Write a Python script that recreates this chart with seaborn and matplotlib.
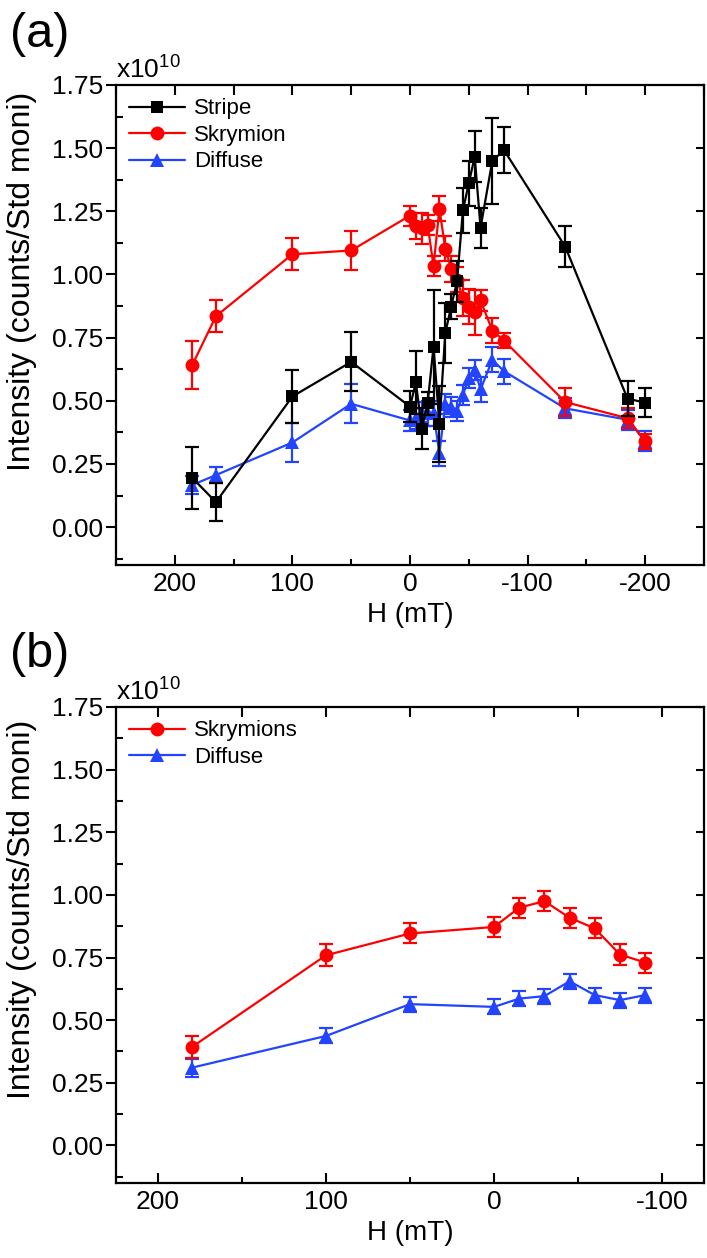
import matplotlib
matplotlib.use("Agg")
import matplotlib.pyplot as plt
import seaborn as sns
from matplotlib.ticker import MultipleLocator, FormatStrFormatter

# Panel (a): intensity (x1e10) vs field H (mT)
field_a = [185, 165, 100, 50, 0, -5, -10, -15, -20, -25, -30, -35, -40,
           -45, -50, -55, -60, -70, -80, -132, -185, -200]
stripe = [0.194, 0.099, 0.517, 0.654, 0.477, 0.573, 0.390, 0.490, 0.714, 0.407,
          0.768, 0.873, 0.973, 1.254, 1.361, 1.466, 1.185, 1.450, 1.492, 1.110,
          0.508, 0.493]
stripe_err = [0.123, 0.076, 0.106, 0.117, 0.06, 0.125, 0.08, 0.045, 0.225, 0.15,
              0.12, 0.05, 0.08, 0.09, 0.09, 0.10, 0.08, 0.17, 0.09, 0.08,
              0.07, 0.057]
skyrmion = [0.643, 0.835, 1.080, 1.095, 1.233, 1.192, 1.182, 1.197, 1.033, 1.260,
            1.102, 1.022, 0.980, 0.907, 0.872, 0.850, 0.897, 0.778, 0.738, 0.495,
            0.431, 0.339]
skyrmion_err = [0.095, 0.063, 0.063, 0.076, 0.04, 0.05, 0.06, 0.04, 0.04, 0.05,
                0.05, 0.05, 0.05, 0.07, 0.07, 0.09, 0.04, 0.05, 0.03, 0.055,
                0.04, 0.03]
diffuse = [0.167, 0.206, 0.335, 0.488, 0.422, 0.430, 0.455, 0.450, 0.450, 0.292,
           0.487, 0.475, 0.460, 0.523, 0.590, 0.623, 0.545, 0.662, 0.617, 0.470,
           0.425, 0.340]
diffuse_err = [0.037, 0.033, 0.076, 0.077, 0.04, 0.04, 0.04, 0.05, 0.05, 0.05,
               0.04, 0.04, 0.04, 0.04, 0.04, 0.04, 0.05, 0.05, 0.05, 0.04,
               0.04, 0.04]

# Panel (b)
field_b = [180, 100, 50, 0, -15, -30, -45, -60, -75, -90]
skyrmions_b = [0.392, 0.759, 0.846, 0.872, 0.949, 0.975, 0.909, 0.866, 0.762, 0.730]
skyrmions_b_err = [0.045, 0.043, 0.04, 0.04, 0.04, 0.04, 0.04, 0.04, 0.04, 0.04]
diffuse_b = [0.310, 0.437, 0.564, 0.553, 0.586, 0.596, 0.655, 0.600, 0.580, 0.600]
diffuse_b_err = [0.035, 0.03, 0.03, 0.03, 0.03, 0.03, 0.03, 0.03, 0.03, 0.03]

sns.set_theme(style="ticks")
plt.rcParams["font.family"] = ["Liberation Sans", "DejaVu Sans"]
plt.rcParams["mathtext.fontset"] = "custom"
plt.rcParams["mathtext.rm"] = "Liberation Sans"
plt.rcParams["axes.unicode_minus"] = False
for key in ["text.color", "axes.labelcolor", "xtick.color", "ytick.color",
            "axes.edgecolor"]:
    plt.rcParams[key] = "black"

BLACK, RED, BLUE = "#000000", "#ff0000", "#2244ff"

fig = plt.figure(figsize=(7.07, 12.58), dpi=100)
ax_a = fig.add_axes([116 / 707, 1 - 565 / 1258, 588 / 707, 480 / 1258])
ax_b = fig.add_axes([116 / 707, 1 - 1183 / 1258, 588 / 707, 476 / 1258])


def draw(ax, x, y, err, color, marker, ms, label, z):
    ax.errorbar(x, y, yerr=err, fmt="none", ecolor=color, elinewidth=1.6,
                capsize=4.8, capthick=1.6, zorder=z)
    sns.lineplot(x=x, y=y, ax=ax, color=color, marker=marker, markersize=ms,
                 markeredgecolor=color, markeredgewidth=0, linewidth=1.6,
                 label=label, zorder=z + 0.5, estimator=None, sort=False)


draw(ax_a, field_a, stripe, stripe_err, BLACK, "s", 9, "Stripe", 6)
draw(ax_a, field_a, skyrmion, skyrmion_err, RED, "o", 10, "Skrymion", 4)
draw(ax_a, field_a, diffuse, diffuse_err, BLUE, "^", 10, "Diffuse", 2)

draw(ax_b, field_b, skyrmions_b, skyrmions_b_err, RED, "o", 10, "Skrymions", 4)
draw(ax_b, field_b, diffuse_b, diffuse_b_err, BLUE, "^", 10, "Diffuse", 2)

for ax, xlim, lab, ytxt, ylab_pos in [(ax_a, (250, -250), "(a)", 12, 0.59),
                                      (ax_b, (225, -125), "(b)", 632, 0.575)]:
    ax.set_xlim(*xlim)
    ax.set_ylim(-0.15, 1.75)
    ax.xaxis.set_major_locator(MultipleLocator(100))
    ax.xaxis.set_minor_locator(MultipleLocator(50))
    ax.yaxis.set_major_locator(MultipleLocator(0.25))
    ax.yaxis.set_minor_locator(MultipleLocator(0.125))
    ax.yaxis.set_major_formatter(FormatStrFormatter("%.2f"))
    for s in ax.spines.values():
        s.set_linewidth(1.6)
    ax.tick_params(axis="x", which="major", direction="in", length=7.5, width=1.5,
                   labelsize=19, pad=5)
    ax.tick_params(axis="x", which="minor", direction="in", length=4, width=1.5)
    ax.tick_params(axis="y", which="major", direction="out", length=7, width=1.5,
                   labelsize=19, pad=2)
    ax.tick_params(axis="y", which="minor", direction="in", length=5, width=1.5)
    top = ax.secondary_xaxis("top")
    top.xaxis.set_major_locator(MultipleLocator(50))
    top.tick_params(direction="in", length=7, width=1.5, labeltop=False)
    right = ax.secondary_yaxis("right")
    right.yaxis.set_major_locator(MultipleLocator(0.25))
    right.tick_params(direction="in", length=6, width=1.5, labelright=False)
    ax.set_xlabel("H (mT)", fontsize=20, labelpad=4)
    ax.set_ylabel("Intensity (counts/Std moni)", fontsize=23)
    ax.yaxis.set_label_coords(-0.135, ylab_pos)
    ax.text(0.0, 1.005, r"x10$^{10}$", transform=ax.transAxes, fontsize=19,
            ha="left", va="bottom")
    ax.legend(loc="upper left", frameon=False, fontsize=16, handlelength=2.5,
              labelspacing=0.25, handletextpad=0.4, borderaxespad=0.3,
              borderpad=0.3)
    fig.text(10 / 707, 1 - ytxt / 1258, lab, fontsize=35, ha="left", va="top")

fig.savefig("out.png", dpi=100)
